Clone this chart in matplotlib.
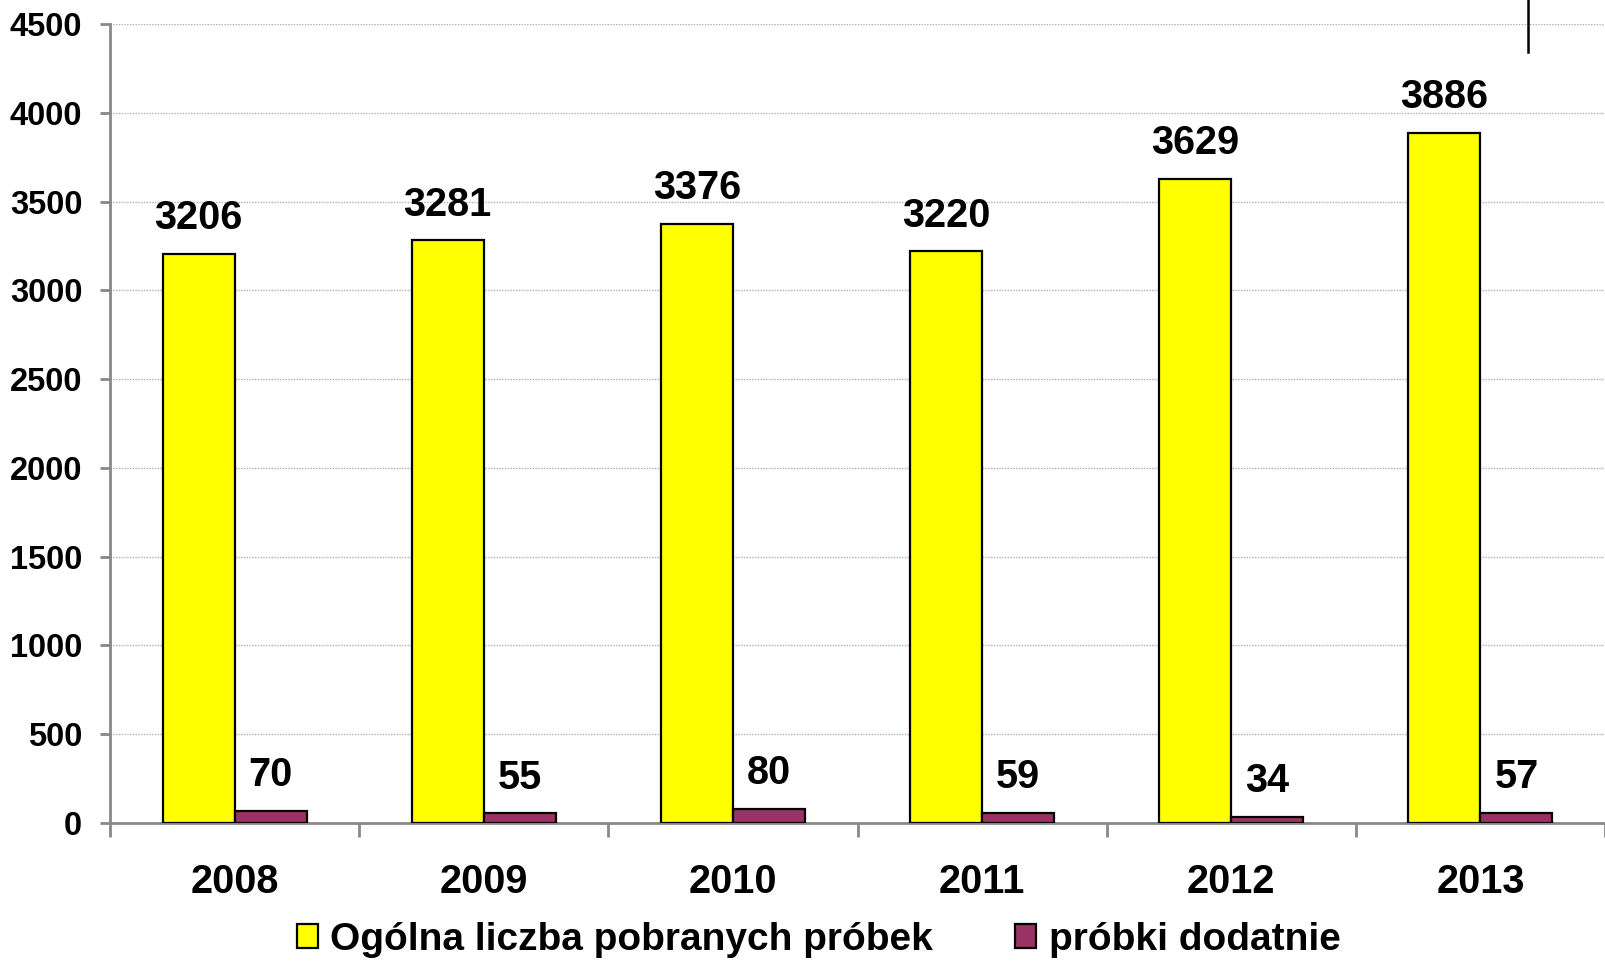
import matplotlib
matplotlib.use("Agg")
import matplotlib.pyplot as plt
from matplotlib.lines import Line2D
import numpy as np

years = ["2008", "2009", "2010", "2011", "2012", "2013"]
total_samples = [3206, 3281, 3376, 3220, 3629, 3886]
positive_samples = [70, 55, 80, 59, 34, 57]
series_names = ["Ogólna liczba pobranych próbek", "próbki dodatnie"]
y_ticks = [0, 500, 1000, 1500, 2000, 2500, 3000, 3500, 4000, 4500]

plt.rcParams["font.family"] = ["Liberation Sans", "DejaVu Sans"]
plt.rcParams["font.weight"] = "bold"

W, H = 1605, 961
CAT = 250.9  # pixel width of one year group
fig = plt.figure(figsize=(W / 100, H / 100), dpi=100)
left, bottom, top = 110 / W, 1 - 823 / H, 1 - 24 / H
ax = fig.add_axes([left, bottom, 1 - left, top - bottom])

x = np.arange(len(years))
bw = 0.289
yellow = "#FFFF00"
purple = "#993366"

b1 = ax.bar(x - bw / 2, total_samples, bw, color=yellow, edgecolor="black",
            linewidth=1.6, zorder=3, label=series_names[0])
b2 = ax.bar(x + bw / 2, positive_samples, bw, color=purple, edgecolor="black",
            linewidth=1.6, zorder=3, label=series_names[1])

for bars, vals in ((b1, total_samples), (b2, positive_samples)):
    for r, v in zip(bars, vals):
        ax.annotate(str(v), (r.get_x() + r.get_width() / 2, v),
                    xytext=(0, 12), textcoords="offset points",
                    ha="center", va="bottom", fontsize=28.5, fontweight="bold")

ax.set_ylim(0, 4500)
ax.set_xlim(-0.5, -0.5 + (W - 110) / CAT)
ax.set_yticks(y_ticks)
ax.set_yticklabels([str(t) for t in y_ticks])
ax.yaxis.grid(True, color="#b0b0b0", linestyle=(0, (1, 1)), linewidth=1.0, zorder=0)

ax.set_xticks(x)
ax.set_xticklabels(years)
ax.set_xticks(np.arange(-0.5, len(years), 1.0), minor=True)
ax.tick_params(axis="x", which="major", length=0, pad=29, labelsize=28.5)
ax.tick_params(axis="x", which="minor", length=10, width=2, color="#888888")
ax.tick_params(axis="y", length=7, width=2, color="#888888", pad=13, labelsize=23.5)
for lab in ax.get_xticklabels() + ax.get_yticklabels():
    lab.set_fontweight("bold")

for s in ("top", "right"):
    ax.spines[s].set_visible(False)
for s in ("left", "bottom"):
    ax.spines[s].set_color("#888888")
    ax.spines[s].set_linewidth(2)

fig.add_artist(Line2D([1528 / W, 1528 / W], [1.0, 1 - 52 / H],
                      color="black", linewidth=1.8))

fig.legend(handles=[b1, b2], loc="center", bbox_to_anchor=(0.51, 1 - 940 / H),
           ncol=2, frameon=False, handlelength=0.55,
           handleheight=0.57, handletextpad=0.32, columnspacing=2.1,
           borderpad=0.1, prop={"weight": "bold", "size": 28})

fig.savefig("out.png", dpi=100)
